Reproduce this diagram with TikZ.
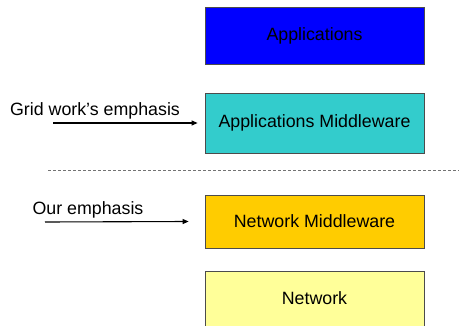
\documentclass[tikz,border=0pt]{standalone}
\usepackage{fontspec}
\setmainfont{Liberation Sans}
\usetikzlibrary{arrows.meta}

\definecolor{appblue}{RGB}{0,0,255}
\definecolor{appteal}{RGB}{51,204,204}
\definecolor{netgold}{RGB}{255,204,0}
\definecolor{netpale}{RGB}{255,255,153}

\begin{document}
\begin{tikzpicture}[x=1pt, y=-1pt,
    every node/.style = {font=\fontsize{17.8}{21}\selectfont},
    layer/.style = {shape=rectangle, draw=black!70, line width=0.8pt,
      minimum width=219pt, inner sep=0pt},
    pointer/.style = {-{Triangle[length=6pt,width=5pt]}, line width=1.1pt}]
    \useasboundingbox (0,0) rectangle (460,326);
    \clip (0,0) rectangle (460,326);
    % the stack
    \node[layer, fill=appblue, minimum height=57pt] (apps) at (314.5,35.5) {Applications};
    \node[layer, fill=appteal, minimum height=60pt] (appmid) at (314.5,123) {Applications Middleware};
    \node[layer, fill=netgold, minimum height=53pt] (netmid) at (314.5,221.5) {Network Middleware};
    \node[layer, fill=netpale, minimum height=80pt, anchor=north] (net) at (314.5,271) {};
    \node at (314.5,298.5) (netlabel) {Network};
    % divider
    \coordinate (divl) at (48,170);
    \coordinate (divr) at (459,170);
    \draw[black!55, line width=0.8pt, dash pattern=on 3pt off 2pt] (divl) -- (divr);
    % emphasis labels
    \node (gridtext) at (95,111) {Grid work’s emphasis};
    \coordinate (gridtail) at (53,123);
    \draw[pointer] (gridtail) -- ([xshift=-7pt]appmid.west);
    \node (ourtext) at (88,210) {Our emphasis};
    \coordinate (ourtail) at (45,222);
    \draw[pointer] (ourtail) -- ([xshift=-16pt]netmid.west);
\end{tikzpicture}
\end{document}
